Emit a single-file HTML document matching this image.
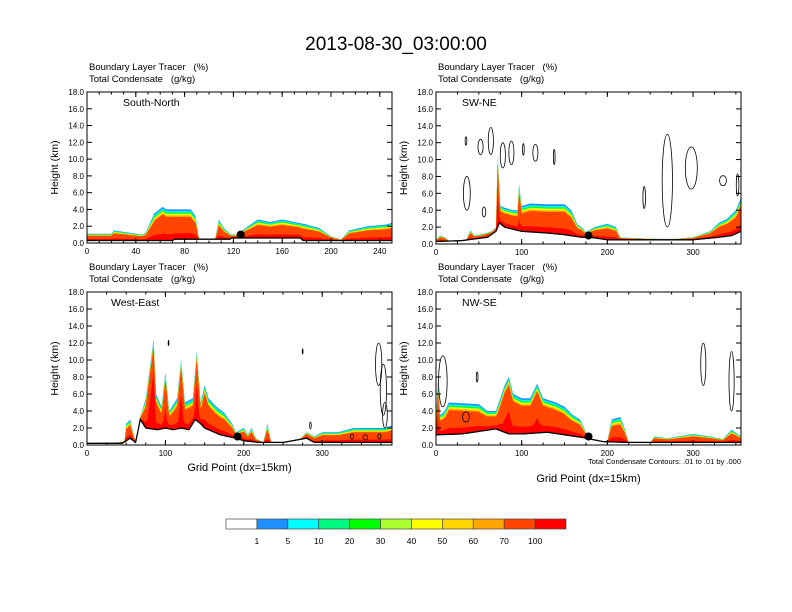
<!DOCTYPE html>
<html><head><meta charset="utf-8"><style>
html,body{margin:0;padding:0;background:#fff}
svg{display:block;font-family:"Liberation Sans",sans-serif}
text{white-space:pre}
</style></head><body>
<svg id="chart" width="792" height="612" viewBox="0 0 792 612" xmlns="http://www.w3.org/2000/svg">
<text x="396" y="50" font-size="19" text-anchor="middle">2013-08-30_03:00:00</text>
<g id="panels"></g>
<g id="cbar"></g>
</svg>
<script>
// ---- data ----
const yTicks = [0,2,4,6,8,10,12,14,16,18];
const cbLabels = ["1","5","10","20","30","40","50","60","70","100"];
const cbColors = ["#ffffff","#1e90ff","#00ffff","#00fa80","#00ff00","#adff2f","#ffff00","#ffd700","#ffa500","#ff4500","#ff0000"];
const p1Names = "South-North";
const p1XTicks = [0,40,80,120,160,200,240];
const p1TopX = [0,20,22,45,48,55,62,65,85,89,92,105,108,112,118,122,130,140,150,160,170,180,190,200,208,215,230,245,250];
const p1TopH = [1.1,1.1,1.5,1.0,1.2,3.5,4.3,4.0,4.0,3.2,0.3,0.3,2.8,1.8,1.0,1.0,1.8,2.8,2.5,2.8,2.5,2.2,1.8,0.8,0.4,1.5,2.0,2.2,2.4];
const p1TerX = [0,70,72,117,119,175,177,250];
const p1TerH = [0.3,0.3,0.45,0.45,0.6,0.6,0.3,0.3];
const p2XTicks = [0,100,200,300];
const p2TopX = [0,5,10,15,35,40,45,55,65,70,72,75,80,90,95,97,100,110,130,150,158,165,170,175,185,200,210,215,230,260,280,300,320,330,340,350,356];
const p2TopH = [0.5,1.0,0.8,0.4,0.4,1.6,1.0,1.2,1.5,2.0,10.5,4.5,4.3,4.0,4.0,7.0,4.5,4.8,4.7,4.7,4.0,2.3,2.0,1.4,2.0,2.4,2.0,0.8,0.7,0.6,0.6,0.8,1.5,2.5,3.0,4.0,5.5];
const p2TerX = [0,30,60,70,74,80,100,130,150,170,180,200,250,300,330,345,356];
const p2TerH = [0.3,0.4,0.8,1.5,2.5,2.0,1.5,1.3,1.1,0.8,0.8,0.5,0.5,0.5,0.8,1.0,1.5];
const p3XTicks = [0,100,200,300];
const p3TopX = [0,40,48,50,55,60,63,67,75,80,85,88,95,100,105,115,120,125,135,140,145,150,155,165,175,185,190,200,205,210,215,225,230,235,250,270,280,290,300,320,340,360,380,389];
const p3TopH = [0.2,0.3,0.5,2.5,3.0,1.0,0.5,3.0,5.5,9.0,12.5,6.0,4.5,8.5,4.0,5.5,10.0,5.0,5.5,11.0,5.0,7.0,5.5,4.5,3.8,2.5,1.5,2.0,1.2,2.0,0.8,0.3,2.5,0.3,0.3,0.5,1.5,1.0,1.5,1.5,2.0,2.0,2.0,2.3];
const p3TerX = [0,45,55,62,68,75,90,100,110,120,130,138,145,150,170,190,200,220,250,280,290,389];
const p3TerH = [0.2,0.2,0.8,0.3,3.0,2.0,1.8,2.0,1.8,2.0,1.8,3.0,2.5,2.0,1.2,0.8,0.5,0.3,0.3,0.8,0.3,0.3];
const p4XTicks = [0,100,200,300];
const p4TopX = [0,2,5,10,15,50,60,70,75,80,85,90,100,110,118,125,140,150,160,168,175,185,200,205,215,220,225,250,255,270,300,320,335,345,356];
const p4TopH = [2.0,7.5,3.5,4.0,5.0,4.8,4.0,4.0,5.5,7.0,8.0,6.0,5.5,5.5,7.2,5.5,5.0,4.5,3.5,3.0,1.5,0.5,0.4,3.0,3.3,2.0,0.3,0.3,1.0,0.8,1.3,1.0,0.7,1.8,1.0];
const p4TerX = [0,30,50,70,85,100,130,150,170,185,195,225,356];
const p4TerH = [1.2,1.3,1.6,1.9,1.3,1.3,1.5,1.2,0.9,0.6,0.4,0.3,0.3];
// contour ellipses [x, h, rx, rh]
const p2Cont = [[35,12.2,1,0.5],[52,11.5,3,0.9],[64,12.2,3,1.6],[78,10.5,3,1.5],[88,10.8,3,1.4],[102,11.2,1,0.7],[116,10.8,3,1.0],[138,10.3,1,0.9],[36,6,4,2.0],[56,3.8,2,0.6],[270,7.5,6,5.5],[298,9.0,7,2.5],[243,5.5,1.5,1.3],[335,7.5,4,0.6],[352,7.0,1.5,1.3]];
const p3Cont = [[104,12.0,0.5,0.3],[275,11.0,0.5,0.3],[372,9.5,4,2.5],[378,6.5,4,3.0],[380,3.5,3,1.5],[285,2.3,1,0.4],[338,1.0,2,0.3],[355,0.9,3,0.3],[373,1.0,2,0.3]];
const p4Cont = [[8,7.5,5,3.0],[48,8.0,1,0.6],[312,9.5,3,2.5],[345,7.5,3,3.5],[35,3.3,4,0.6]];
const dots = [[126,1.0],[178,1.0],[192,1.0],[178,1.0]];

const NS="http://www.w3.org/2000/svg";
const panels=document.getElementById('panels');
function mk(tag,attrs,parent){const e=document.createElementNS(NS,tag);for(const k in attrs)e.setAttribute(k,attrs[k]);(parent||panels).appendChild(e);return e;}
function interp(xs,hs,x){if(x<=xs[0])return hs[0];for(let i=1;i<xs.length;i++){if(x<=xs[i]){const t=(x-xs[i-1])/(xs[i]-xs[i-1]);return hs[i-1]+t*(hs[i]-hs[i-1]);}}return hs[hs.length-1];}
const offs=[0,0.2,0.32,0.42,0.5,0.58,0.66,0.76,0.9,4];
const fracs=[0,0.06,0.1,0.13,0.16,0.19,0.22,0.26,0.3,0.8];
const layerCols=["#1e90ff","#00ffff","#00fa80","#00ff00","#adff2f","#ffff00","#ffd700","#ffa500","#ff4500","#ff0000"];

function panel(cfg){
  const g=mk('g',{});
  
  
  const L=cfg.x0,R=cfg.x1,T=cfg.y0,B=cfg.y1;
  const sx=v=>L+(v/cfg.xmax)*(R-L);
  const sy=h=>B-(h/18)*(B-T);
  const t1=mk('text',{x:L+2,y:T-22,'font-size':9.5},g);t1.textContent="Boundary Layer Tracer   (%)";
  
  const t2=mk('text',{x:L+2,y:T-10,'font-size':9.5},g);t2.textContent="Total Condensate   (g/kg)";
  
  const n=Math.round(cfg.xmax);
  const cg=mk('g',{},g);
  
  offs.forEach((o,k)=>{
    let top=[],bot=[];
    for(let i=0;i<=n;i++){
      const x=Math.min(i,cfg.xmax);
      const th=interp(cfg.topX,cfg.topH,x), te=interp(cfg.terX,cfg.terH,x);
      const thick=Math.max(th-te,0);
      const off=Math.min(o,thick*fracs[k]);
      const h=Math.max(th-off,te);
      top.push(sx(x).toFixed(1)+','+sy(h).toFixed(1));
      bot.unshift(sx(x).toFixed(1)+','+sy(te).toFixed(1));
    }
    const p=mk('polygon',{points:top.concat(bot).join(' '),fill:layerCols[k]},cg);
    
  });
  let tp=[];for(let i=0;i<=n;i++){const x=Math.min(i,cfg.xmax);tp.push(sx(x).toFixed(1)+','+sy(interp(cfg.terX,cfg.terH,x)).toFixed(1));}
  const tl=mk('polyline',{points:tp.join(' '),fill:'none',stroke:'#000','stroke-width':1.3},g);
  
  (cfg.cont||[]).forEach(c=>{
    const e=mk('ellipse',{cx:sx(c[0]),cy:sy(c[1]),rx:Math.abs(sx(c[2])-sx(0)),ry:Math.abs(sy(0)-sy(c[3])),fill:'none',stroke:'#000','stroke-width':0.8},g);
    
  });
  const d=mk('circle',{cx:sx(cfg.dot[0]),cy:sy(cfg.dot[1]),r:4,fill:'#000'},g);
  
  const f=mk('rect',{x:L,y:T,width:R-L,height:B-T,fill:'none',stroke:'#000','stroke-width':1},g);
  
  yTicks.forEach(v=>{
    const y=sy(v);
    mk('line',{x1:L,x2:L+5,y1:y,y2:y,stroke:'#000'},g);
    mk('line',{x1:R,x2:R-5,y1:y,y2:y,stroke:'#000'},g);
    const t=mk('text',{x:L-3,y:y+3,'font-size':8,'text-anchor':'end'},g);t.textContent=v.toFixed(1);
    
  });
  cfg.xTicks.forEach(v=>{
    const x=sx(v);
    mk('line',{x1:x,x2:x,y1:B,y2:B-5,stroke:'#000'},g);
    mk('line',{x1:x,x2:x,y1:T,y2:T+5,stroke:'#000'},g);
    const t=mk('text',{x:x,y:B+11,'font-size':8,'text-anchor':'middle'},g);t.textContent=v;
    
  });
  const step=cfg.xTicks[1]-cfg.xTicks[0];
  for(let v=step/4;v<cfg.xmax;v+=step/4){const x=sx(v);mk('line',{x1:x,x2:x,y1:B,y2:B-2.5,stroke:'#000'},g);mk('line',{x1:x,x2:x,y1:T,y2:T+2.5,stroke:'#000'},g);}
  const yt=mk('text',{x:0,y:0,'font-size':10.5,'text-anchor':'middle',transform:`translate(${L-29},${(T+B)/2}) rotate(-90)`},g);
  yt.textContent="Height (km)";
  const pt=mk('text',{x:L+cfg.lblx,y:T+14,'font-size':10.5},g);pt.textContent=cfg.title;
  
  if(cfg.xtitle){const xt=mk('text',{x:(L+R)/2,y:cfg.xtitle,'font-size':11,'text-anchor':'middle'},g);xt.textContent="Grid Point (dx=15km)";
    }
}
panel({name:'panel-south-north',title:p1Names,x0:87,x1:392,y0:92,y1:243,xmax:250,xTicks:p1XTicks,topX:p1TopX,topH:p1TopH,terX:p1TerX,terH:p1TerH,dot:dots[0],lblx:36});
panel({name:'panel-sw-ne',title:'SW-NE',x0:436,x1:741,y0:92,y1:244,xmax:356,xTicks:p2XTicks,topX:p2TopX,topH:p2TopH,terX:p2TerX,terH:p2TerH,dot:dots[1],cont:p2Cont,lblx:26});
panel({name:'panel-west-east',title:'West-East',x0:87,x1:392,y0:292,y1:445,xmax:389,xTicks:p3XTicks,topX:p3TopX,topH:p3TopH,terX:p3TerX,terH:p3TerH,dot:dots[2],cont:p3Cont,lblx:24,xtitle:471});
panel({name:'panel-nw-se',title:'NW-SE',x0:436,x1:741,y0:292,y1:445,xmax:356,xTicks:p4XTicks,topX:p4TopX,topH:p4TopH,terX:p4TerX,terH:p4TerH,dot:dots[3],cont:p4Cont,lblx:26,xtitle:482});
const note=mk('text',{x:741,y:464,'font-size':7.5,'text-anchor':'end'});
note.textContent="Total Condensate Contours: .01 to .01 by .000";


const cb=document.getElementById('cbar');
const cbL=226,cbW=340/cbColors.length;
cbColors.forEach((c,i)=>{
  const r=mk('rect',{x:cbL+i*cbW,y:519,width:cbW,height:10,fill:c,stroke:'#444','stroke-width':0.7},cb);
  
});
cbLabels.forEach((s,i)=>{
  const t=mk('text',{x:cbL+(i+1)*cbW,y:544,'font-size':8.5,'text-anchor':'middle'},cb);t.textContent=s;
  
});
</script>
</body></html>
